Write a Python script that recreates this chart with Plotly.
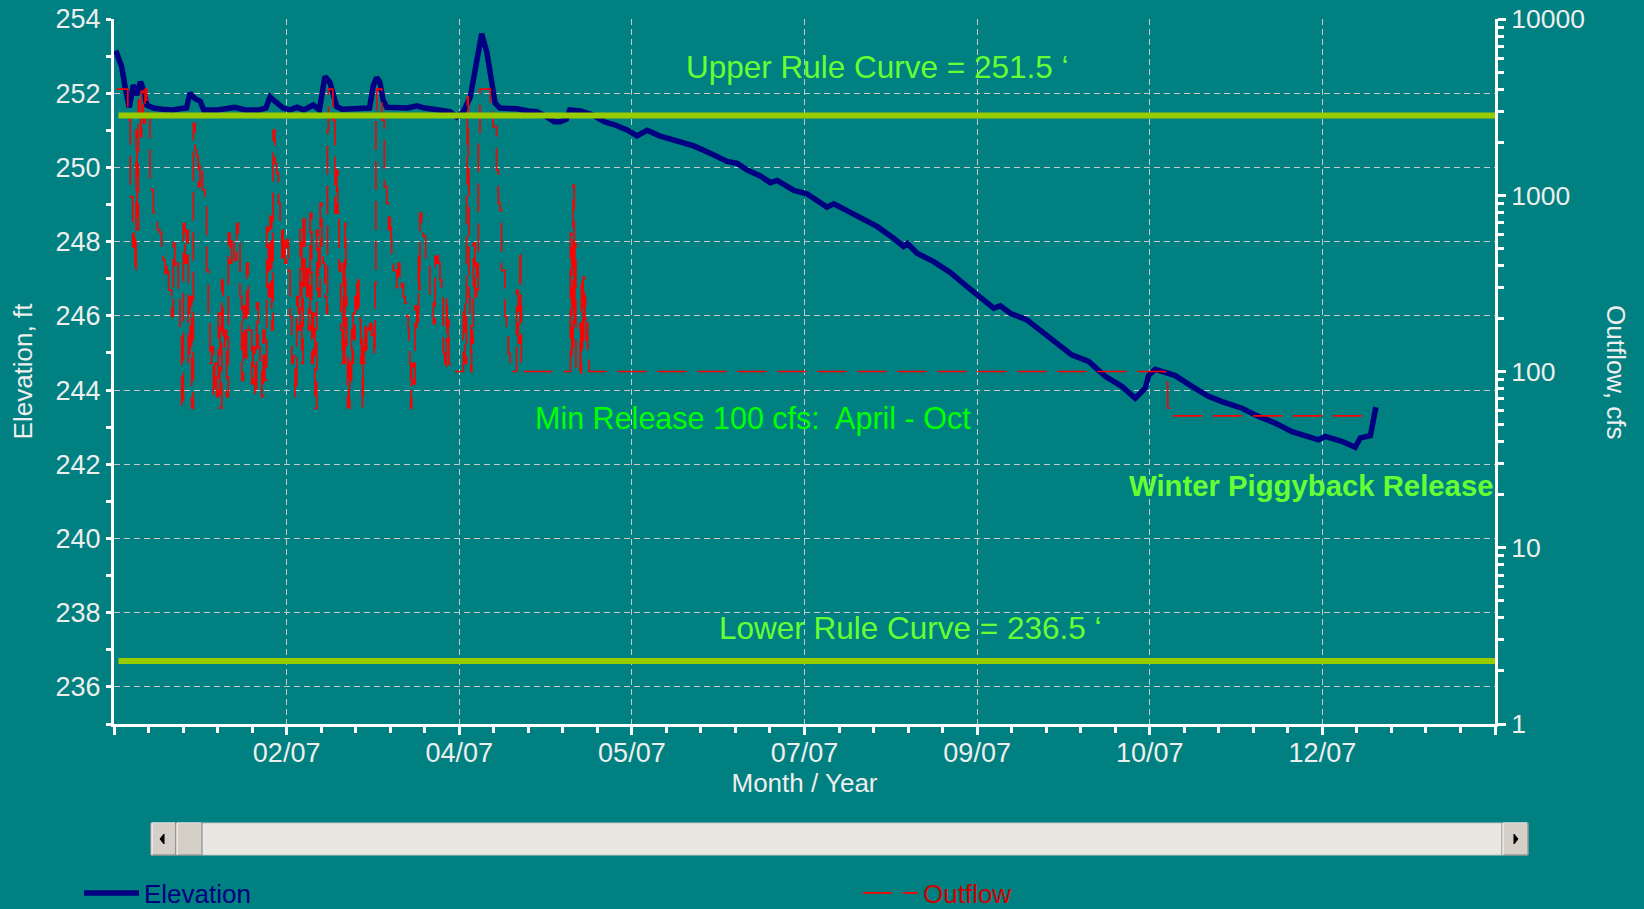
import pandas as pd
import plotly.graph_objects as go

# ---------------- data ----------------
base_date = pd.Timestamp("2007-01-01")

elev_days = [0.5, 2.2, 3.2, 4.4, 5.6, 6.6, 7.7, 8.5, 9.5, 11.4, 14, 17, 19, 21, 22, 23.5, 25, 26,
             30, 33, 35, 38, 42, 44, 45.2, 47, 49, 51, 53, 55, 57.7, 59.5, 61.1, 62.5, 63.5, 64.5,
             66, 70, 74, 75.1, 76.1, 77, 78, 79, 82, 85, 87.7, 90, 94, 97.4, 99.3, 101.2, 103.2,
             105.1, 106.5, 108, 108.9, 110.4, 111.8, 116.7, 120, 122.5, 125.4, 127.5, 129.2, 131,
             132, 135, 138.8, 142, 145, 148.6, 151.5, 154.4, 158, 163.1, 167.9, 172.7, 177.6, 180.5,
             183.4, 187.2, 190.1, 192.1, 196.9, 200.7, 206.5, 208.5, 212.3, 216.2, 221, 225.8, 228.7,
             229.8, 232.6, 237.4, 242.2, 247.1, 250, 254.8, 256.7, 259.6, 264.4, 268.3, 272.6, 277.4,
             282.3, 287.1, 291.9, 295.8, 298.7, 299.7, 301.6, 304.5, 307.4, 312.2, 317, 320.9, 326.7,
             331.5, 336.3, 341.2, 346, 348.9, 350.8, 355.6, 359.5, 361, 363.9, 364.8, 365.5]
elev_ft = [253.15, 252.72, 252.18, 251.62, 252.22, 251.95, 252.31, 252.1, 251.68, 251.6, 251.57,
           251.55, 251.58, 251.6, 252.0, 251.85, 251.78, 251.55, 251.55, 251.57, 251.62, 251.55,
           251.55, 251.6, 251.9, 251.75, 251.6, 251.55, 251.62, 251.55, 251.68, 251.55, 252.45,
           252.3, 251.9, 251.64, 251.57, 251.57, 251.6, 252.2, 252.42, 252.3, 251.8, 251.62, 251.6,
           251.6, 251.66, 251.6, 251.55, 251.5, 251.36, 251.5, 251.9, 253.0, 253.6, 253.1, 252.6,
           251.73, 251.6, 251.58, 251.52, 251.5, 251.36, 251.23, 251.23, 251.3, 251.55, 251.52,
           251.41, 251.23, 251.15, 251.01, 250.85, 251.0, 250.85, 250.72, 250.58, 250.38, 250.16,
           250.11, 249.93, 249.77, 249.59, 249.65, 249.38, 249.29, 248.93, 249.02, 248.84, 248.63,
           248.41, 248.09, 247.87, 247.95, 247.69, 247.46, 247.17, 246.79, 246.57, 246.21, 246.27,
           246.07, 245.89, 245.61, 245.27, 244.95, 244.77, 244.37, 244.10, 243.78, 244.05, 244.4,
           244.56, 244.48, 244.39, 244.10, 243.83, 243.69, 243.51, 243.29, 243.11, 242.88, 242.75,
           242.66, 242.75, 242.62, 242.46, 242.71, 242.77, 243.2, 243.54]

outflow_days = [
    0.8, 4.0, 4.4, 4.7, 5.1, 5.4, 5.8, 6.1, 6.4, 6.7, 7.05, 7.3, 7.5, 7.75, 8.0, 8.5, 9.0, 9.45,
    9.9, 10.4, 10.9, 11.4, 11.9, 12.6, 13.3, 13.8, 14.3, 14.8, 15.3, 15.8, 16.2, 16.7, 17.2, 17.6,
    18.1, 18.6, 19.1, 19.6, 20.1, 20.6, 21.0, 21.5, 22.0, 22.5, 23.0, 23.5, 23.9, 24.4, 24.9, 25.6,
    26.3, 26.8, 27.3, 27.8, 28.3, 28.8, 29.2, 29.7, 30.2, 30.7, 31.2, 31.6, 32.1, 32.6, 33.1, 33.6,
    34.1, 34.8, 35.5, 36.0, 36.5, 37.0, 37.5, 38.0, 38.4, 38.9, 39.4, 39.9, 40.3, 40.8, 41.3, 41.8,
    42.3, 42.8, 43.2, 43.7, 44.2, 44.7, 45.2, 45.7, 46.1, 46.6, 47.1, 47.6, 48.1, 48.6, 49.0, 49.5,
    50.0, 50.5, 51.0, 51.5, 51.9, 52.4, 52.9, 53.4, 53.9, 54.4, 54.8, 55.3, 55.8, 56.3, 56.8, 57.3,
    57.7, 58.2, 58.7, 59.2, 59.7, 60.2, 60.6, 61.1, 61.6, 61.85, 62.1, 63.4, 64.0, 64.5, 64.8, 65.0,
    65.2, 65.4, 65.65, 65.9, 66.15, 66.4, 66.65, 66.9, 67.15, 67.4, 67.65, 67.9, 68.1, 68.3, 68.55,
    68.8, 69.05, 69.3, 69.55, 69.8, 70.05, 70.3, 70.5, 70.7, 70.95, 71.2, 71.45, 71.7, 71.95, 72.2,
    72.45, 72.7, 72.95, 73.2, 73.6, 74.1, 74.6, 75.1, 75.35, 75.6, 75.85, 76.1, 77.6, 78.3, 79.0,
    79.5, 80.0, 80.2, 80.4, 80.9, 81.4, 81.85, 82.3, 82.8, 83.3, 83.8, 84.3, 84.75, 85.2, 85.45,
    85.7, 85.95, 86.2, 86.7, 87.2, 87.7, 88.2, 88.4, 88.6, 89.1, 89.6, 90.3, 91.0, 91.5, 92.0, 92.5,
    93.0, 93.45, 93.9, 94.15, 94.4, 94.9, 95.4, 95.85, 96.3, 96.55, 96.8, 97.05, 97.3, 101.2, 101.6,
    102.1, 102.35, 102.6, 102.85, 103.1, 103.35, 103.6, 103.85, 104.1, 104.55, 105.0, 105.25, 105.5,
    106.0, 109.0, 109.8, 110.8, 111.3, 111.8, 112.25, 112.7, 113.2, 113.7, 114.2, 114.7, 115.1,
    115.6, 116.6, 117.1, 117.6, 117.8, 118.0, 132.2, 132.6, 133.0, 133.3, 133.5, 133.8, 134.3,
    135.0, 135.2, 135.4, 135.7, 135.9, 136.2, 136.4, 136.6, 136.9, 137.2, 137.6, 304.4, 305.2,
    306.0, 363.0]
outflow_cfs = [
    4000, 3190, 2670, 982, 982, 511, 635, 360, 2345, 635, 3470, 2915, 3050, 2150, 3900, 2560, 4000,
    3470, 2790, 1220, 1070, 790, 760, 635, 610, 450, 430, 360, 411, 290, 290, 205, 535, 375, 411,
    266, 172, 62, 690, 411, 635, 111, 266, 62, 2560, 1810, 1660, 1120, 1518, 1070, 900, 375, 214,
    111, 138, 72, 111, 72, 214, 62, 330, 138, 172, 72, 610, 411, 585, 430, 690, 535, 266, 89, 235,
    111, 411, 172, 172, 85, 138, 72, 245, 138, 116, 72, 172, 89, 660, 266, 760, 172, 2345, 1518,
    1330, 900, 690, 411, 635, 411, 560, 375, 205, 111, 122, 72, 266, 172, 635, 111, 790, 266, 411,
    172, 790, 111, 214, 62, 635, 266, 900, 490, 411, 266, 214, 2345, 4000, 2670, 790, 1390, 790,
    825, 375, 411, 172, 172, 111, 411, 111, 690, 266, 138, 63, 111, 62, 116, 89, 172, 111, 214,
    152, 266, 214, 315, 225, 330, 214, 196, 111, 160, 63, 138, 111, 179, 133, 187, 172, 187, 160,
    187, 122, 315, 3050, 4000, 2670, 1120, 900, 635, 760, 585, 450, 375, 375, 300, 411, 300, 315,
    266, 245, 205, 172, 145, 111, 62, 111, 85, 235, 172, 450, 290, 790, 635, 585, 411, 411, 266,
    266, 187, 450, 411, 470, 411, 330, 266, 127, 101, 266, 145, 196, 111, 100, 245, 111, 982, 3620,
    1390, 266, 187, 100, 172, 145, 535, 266, 411, 290, 2150, 4000, 3330, 2450, 1390, 900, 825, 375,
    375, 205, 172, 127, 111, 103, 100, 290, 145, 490, 235, 100, 608, 121, 1143, 188, 534, 98, 100,
    188, 98, 345, 132, 345, 188, 266, 151, 188, 121, 100, 87, 62, 56, 56]

upper_rule_ft = 251.4
lower_rule_ft = 236.7
rule_days = [1.3, 400]

x_tick_days = [0, 50, 100, 150, 200, 250, 300, 350, 400]
x_tick_text = ["", "02/07", "04/07", "05/07", "07/07", "09/07", "10/07", "12/07", ""]
outflow_tick_vals = [1, 10, 100, 1000, 10000]
outflow_tick_text = ["1", "10", "100", "1000", "10000"]

# ---------------- figure ----------------
def to_dates(days):
    return [base_date + pd.Timedelta(days=float(d)) for d in days]

TEAL = "#008080"
AX = "#FFFFFF"
TXT = "#EEEEEE"
FONT = "Liberation Sans, Arial, sans-serif"

fig = go.Figure()
fig.add_trace(go.Scatter(
    x=to_dates(elev_days), y=elev_ft, name="Elevation", mode="lines",
    line=dict(color="#000080", width=5.5), yaxis="y", legend="legend"))
fig.add_trace(go.Scatter(
    x=to_dates(outflow_days), y=outflow_cfs, name="Outflow", mode="lines",
    line=dict(color="#FF0000", width=1.6, dash="29px,11px", shape="hv"),
    yaxis="y2", legend="legend2"))

rule_x = to_dates(rule_days)
shapes = []
for lvl in (upper_rule_ft, lower_rule_ft):
    shapes.append(dict(type="line", xref="x", yref="y", x0=rule_x[0], x1=rule_x[1],
                       y0=lvl, y1=lvl, line=dict(color="#99CC00", width=6), layer="above"))

# scrollbar (decoration below the plot)
def px_x(x):
    return (x - 114) / 1381.0

def px_y(y):
    return (724 - y) / 705.0

sb_top, sb_bot = px_y(823), px_y(855)
shapes.append(dict(type="rect", xref="paper", yref="paper", x0=px_x(151), x1=px_x(1528),
                   y0=sb_bot, y1=sb_top, fillcolor="#E9E7E2", line=dict(color="#C8C8C8", width=1),
                   layer="above"))
for a, b in ((151, 176), (176, 202), (1502, 1528)):
    shapes.append(dict(type="rect", xref="paper", yref="paper", x0=px_x(a), x1=px_x(b),
                       y0=sb_bot, y1=sb_top, fillcolor="#D4D0C8",
                       line=dict(color="#808080", width=1), layer="above"))
    shapes.append(dict(type="path", xref="paper", yref="paper",
                       path="M%f,%f L%f,%f L%f,%f" % (px_x(a + 1), sb_bot, px_x(a + 1), sb_top,
                                                     px_x(b - 1), sb_top),
                       line=dict(color="#FFFFFF", width=1), layer="above"))
shapes.append(dict(type="path", xref="paper", yref="paper",
                   path="M%f,%f L%f,%f L%f,%f Z" % (px_x(160), px_y(839), px_x(164), px_y(834),
                                                   px_x(164), px_y(844)),
                   fillcolor="#000000", line=dict(color="#000000", width=1), layer="above"))
shapes.append(dict(type="path", xref="paper", yref="paper",
                   path="M%f,%f L%f,%f L%f,%f Z" % (px_x(1518), px_y(839), px_x(1514), px_y(834),
                                                   px_x(1514), px_y(844)),
                   fillcolor="#000000", line=dict(color="#000000", width=1), layer="above"))

def note(text, x, y, size, color, xanchor="center", angle=0):
    return dict(text=text, xref="paper", yref="paper", x=px_x(x), y=px_y(y),
                xanchor=xanchor, yanchor="middle", textangle=angle, showarrow=False,
                font=dict(family=FONT, size=size, color=color))

annotations = [
    note("Upper Rule Curve = 251.5 \u2018", 878, 67, 31.5, "#66FF33"),
    note("Lower Rule Curve = 236.5 \u2018", 910, 628, 31.5, "#66FF33"),
    note("Min Release 100 cfs:\u00a0 April - Oct", 753, 418, 30.5, "#00FF00"),
    note("<b>Winter Piggyback Release</b>", 1495, 485, 29.3, "#66FF33", xanchor="right"),
    note("Outflow, cfs", 1616, 372, 26, TXT, angle=90),
]

fig.update_layout(
    template="none",
    width=1644, height=909,
    margin=dict(l=114, r=149, t=19, b=185, autoexpand=False),
    paper_bgcolor=TEAL, plot_bgcolor=TEAL,
    font=dict(family=FONT, size=26, color=TXT),
    shapes=shapes, annotations=annotations,
    xaxis=dict(
        type="date", range=to_dates([0, 400]), automargin=False,
        tickmode="array", tickvals=to_dates(x_tick_days), ticktext=x_tick_text,
        ticks="outside", ticklen=8, tickwidth=3, tickcolor=AX, ticklabelstandoff=-5,
        showline=True, linecolor=AX, linewidth=3,
        showgrid=True, gridcolor="#C8C8C8", gridwidth=1, griddash="6px,4px",
        zeroline=False, tickfont=dict(size=27, color=TXT),
        minor=dict(dtick=10 * 86400000, tick0=base_date, ticks="outside", ticklen=6,
                   tickwidth=3, tickcolor=AX, showgrid=False),
        title=dict(text="Month / Year", font=dict(size=26, color=TXT), standoff=6),
    ),
    yaxis=dict(
        range=[235, 254], automargin=False, tick0=236, dtick=2,
        ticks="outside", ticklen=5, tickwidth=3, tickcolor=AX,
        showline=True, linecolor=AX, linewidth=3,
        showgrid=True, gridcolor="#C8C8C8", gridwidth=1, griddash="6px,4px",
        zeroline=False, tickfont=dict(size=27, color=TXT),
        minor=dict(dtick=1, ticks="outside", ticklen=5, tickwidth=3, tickcolor=AX, showgrid=False),
        title=dict(text="Elevation, ft", font=dict(size=26, color=TXT), standoff=16),
    ),
    yaxis2=dict(
        type="log", range=[0, 4], overlaying="y", side="right", automargin=False,
        tickmode="array", tickvals=outflow_tick_vals, ticktext=outflow_tick_text,
        ticks="outside", ticklen=8, tickwidth=3, tickcolor=AX,
        showline=True, linecolor=AX, linewidth=3, showgrid=False, zeroline=False,
        tickfont=dict(size=26.5, color=TXT),
        minor=dict(tickmode="array",
                   tickvals=[m * 10 ** k for k in range(4) for m in range(2, 10)],
                   ticks="outside", ticklen=6, tickwidth=3, tickcolor=AX, showgrid=False),
    ),
    legend=dict(x=px_x(79), y=px_y(893), xanchor="left", yanchor="middle", orientation="h",
                itemwidth=55, bgcolor="rgba(0,0,0,0)",
                font=dict(family=FONT, size=26, color="#000080")),
    legend2=dict(x=px_x(858), y=px_y(893), xanchor="left", yanchor="middle", orientation="h",
                 itemwidth=55, bgcolor="rgba(0,0,0,0)",
                 font=dict(family=FONT, size=26, color="#D00000")),
    showlegend=True,
)

fig.write_html("out.html", config={"displayModeBar": False},
               post_script="document.body.style.margin='0px';")
